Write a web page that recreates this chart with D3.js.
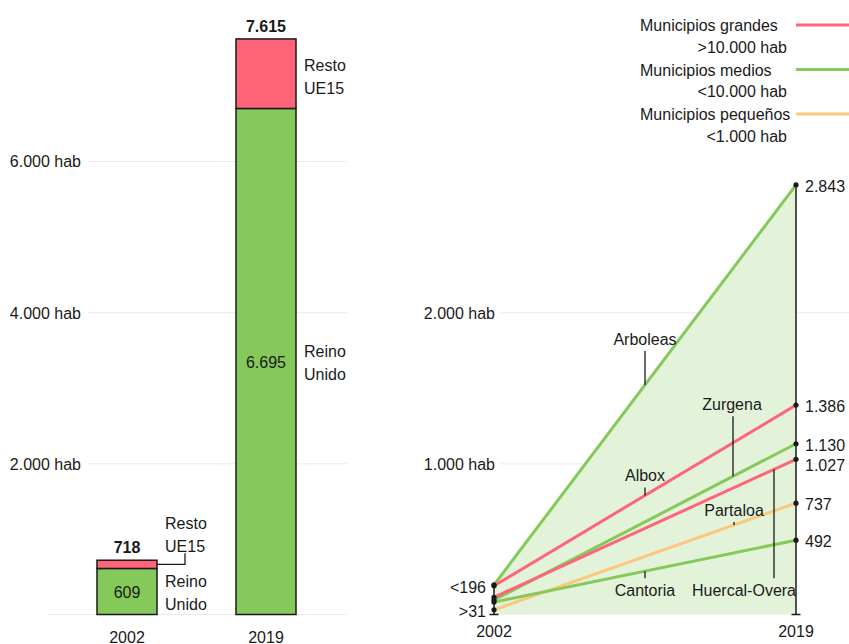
<!DOCTYPE html>
<html><head><meta charset="utf-8">
<script src="https://cdn.jsdelivr.net/npm/d3@7"></script>
<style>
body{margin:0;background:#fff}
svg{display:block}
text{font-family:"Liberation Sans",Arial,sans-serif;font-size:16px;fill:#1a1a1a}
</style>
</head><body><svg id="c" width="849" height="644"></svg>
<script>
// ---------- DATA ----------
const years = ["2002", "2019"];
const reinoUnido = [609, 6695];
const restoUE15 = [109, 920];
const leftTicks = [2000, 4000, 6000];

const municipios = ["Arboleas", "Albox", "Zurgena", "Huercal-Overa", "Partaloa", "Cantoria"];
const tipoMunicipio = ["medio", "grande", "medio", "grande", "pequeno", "medio"];
const valores2002 = [196, 190, 96, 114, 31, 82];
const valores2019 = [2843, 1386, 1130, 1027, 737, 492];
const rightTicks = [1000, 2000];

const legendTipos = ["grande", "medio", "pequeno"];
const legendLine1 = ["Municipios grandes", "Municipios medios", "Municipios pequeños"];
const legendLine2 = [">10.000 hab", "<10.000 hab", "<1.000 hab"];

// ---------- STYLE ----------
const RED = "#ff6479", GREEN = "#84c95a", ORANGE = "#fac97f";
const colorTipo = d3.scaleOrdinal().domain(["grande", "medio", "pequeno"]).range([RED, GREEN, ORANGE]);
const GRID = "#ebebeb";
const fmt = d3.formatLocale({decimal: ",", thousands: ".", grouping: [3], currency: ["", ""]}).format(",d");

const svg = d3.select("#c");

// ---------- LEFT: stacked bars ----------
const yL = d3.scaleLinear().domain([0, 6000]).range([614.5, 161]);
const xL = d3.scalePoint().domain(years).range([127, 266]);
const barW = 60;

const gL = svg.append("g");
// grid
const axL = d3.axisLeft(yL).tickValues(leftTicks).tickSize(-(347 - 88)).tickFormat(d => fmt(d) + " hab");
const gAx = gL.append("g").attr("transform", "translate(88,0)").call(axL);
gAx.select(".domain").remove();
gAx.selectAll("line").attr("stroke", GRID);
gAx.selectAll("text").attr("x", -7).attr("dy", "0.37em").style("font-size", "16px").style("font-family", '"Liberation Sans",Arial,sans-serif').attr("fill", "#1a1a1a");
gL.append("line").attr("x1", 48).attr("x2", 347).attr("y1", yL(0)).attr("y2", yL(0)).attr("stroke", GRID);

const table = years.map((y, i) => ({year: y, reino: reinoUnido[i], resto: restoUE15[i]}));
const stack = d3.stack().keys(["reino", "resto"])(table);
const segColor = {reino: GREEN, resto: RED};

stack.forEach(layer => {
  gL.selectAll(null).data(layer).enter().append("rect")
    .attr("x", d => xL(d.data.year) - barW / 2)
    .attr("width", barW)
    .attr("y", d => yL(d[1]))
    .attr("height", d => yL(d[0]) - yL(d[1]))
    .attr("fill", segColor[layer.key])
    .attr("stroke", "#1a1a1a").attr("stroke-width", 1.5);
});

// totals
table.forEach(d => {
  const tot = d.reino + d.resto;
  gL.append("text").attr("x", xL(d.year)).attr("y", yL(tot) - 7).attr("text-anchor", "middle")
    .attr("font-weight", "bold").text(fmt(tot));
});
// value inside green segment
table.forEach(d => {
  gL.append("text").attr("x", xL(d.year)).attr("y", (yL(0) + yL(d.reino)) / 2 + 6.5)
    .attr("text-anchor", "middle").text(fmt(d.reino));
});

function twoLine(g, x, cy, l1, l2) {
  g.append("text").attr("x", x).attr("y", cy - 11.5 + 5.8).text(l1);
  g.append("text").attr("x", x).attr("y", cy + 11.5 + 5.8).text(l2);
}
// 2019 labels
{
  const d = table[1];
  const xr = xL(d.year) + barW / 2 + 8;
  twoLine(gL, xr, (yL(d.reino) + yL(d.reino + d.resto)) / 2 + 2.5, "Resto", "UE15");
  twoLine(gL, xr, (yL(0) + yL(d.reino)) / 2 + 1, "Reino", "Unido");
}
// 2002 labels
{
  const d = table[0];
  const xr = xL(d.year) + barW / 2;
  const redC = (yL(d.reino) + yL(d.reino + d.resto)) / 2;
  twoLine(gL, xr + 8, redC - 30, "Resto", "UE15");
  gL.append("path").attr("d", `M${xr},${redC}H${xr + 28}V${redC - 11}`)
    .attr("fill", "none").attr("stroke", "#1a1a1a").attr("stroke-width", 1.3);
  twoLine(gL, xr + 8, (yL(0) + yL(d.reino)) / 2 + 1.5, "Reino", "Unido");
}
// year labels
years.forEach(y => {
  gL.append("text").attr("x", xL(y)).attr("y", 642.5).attr("text-anchor", "middle").text(y);
});

// ---------- RIGHT: slope chart ----------
const yR = d3.scaleLinear().domain([0, 2000]).range([614.5, 312.3]);
const xR = d3.scalePoint().domain(years).range([494, 796]);
const gR = svg.append("g");

const axR = d3.axisLeft(yR).tickValues(rightTicks).tickSize(-(849 - 500)).tickFormat(d => fmt(d) + " hab");
const gAxR = gR.append("g").attr("transform", "translate(500,0)").call(axR);
gAxR.select(".domain").remove();
gAxR.selectAll("line").attr("stroke", GRID);
gAxR.selectAll("text").attr("x", -5).attr("dy", "0.37em").style("font-size", "16px").style("font-family", '"Liberation Sans",Arial,sans-serif').attr("fill", "#1a1a1a");

const series = municipios.map((m, i) => ({
  name: m, tipo: tipoMunicipio[i],
  values: [{year: years[0], v: valores2002[i]}, {year: years[1], v: valores2019[i]}]
}));
const maxByYear = years.map((y, j) => ({year: y, v: d3.max(series, s => s.values[j].v)}));
const minByYear = years.map((y, j) => ({year: y, v: d3.min(series, s => s.values[j].v)}));

// envelope area
gR.append("path").datum(maxByYear)
  .attr("d", d3.area().x(d => xR(d.year)).y0(yR(0)).y1(d => yR(d.v)))
  .attr("fill", "#e3f3da");

// vertical axes at each year
maxByYear.forEach(d => {
  const x = xR(d.year);
  gR.append("line").attr("x1", x).attr("x2", x).attr("y1", yR(d.v)).attr("y2", yR(0))
    .attr("stroke", "#1a1a1a").attr("stroke-width", 1.5);
  gR.append("line").attr("x1", x - 4.5).attr("x2", x + 4.5).attr("y1", yR(0)).attr("y2", yR(0))
    .attr("stroke", "#1a1a1a").attr("stroke-width", 1.5);
});

const line = d3.line().x(d => xR(d.year)).y(d => yR(d.v));
gR.selectAll(".ml").data(series).enter().append("path")
  .attr("d", d => line(d.values)).attr("fill", "none")
  .attr("stroke", d => colorTipo(d.tipo)).attr("stroke-width", 3);

// dots
series.forEach(s => s.values.forEach(p => {
  gR.append("circle").attr("cx", xR(p.year)).attr("cy", yR(p.v)).attr("r", 2.6).attr("fill", "#1a1a1a");
}));

// end labels 2019 with simple collision avoidance
{
  const items = series.map(s => ({v: s.values[1].v, y: yR(s.values[1].v) + 1})).sort((a, b) => a.y - b.y);
  for (let i = 1; i < items.length; i++) if (items[i].y < items[i - 1].y + 20) items[i].y = items[i - 1].y + 20;
  items.forEach(it => gR.append("text").attr("x", xR(years[1]) + 9).attr("y", it.y + 5.8).text(fmt(it.v)));
}
// start labels 2002
gR.append("text").attr("x", xR(years[0]) - 8).attr("y", yR(maxByYear[0].v) + 2 + 5.8).attr("text-anchor", "end").text("<" + fmt(maxByYear[0].v));
gR.append("text").attr("x", xR(years[0]) - 8).attr("y", yR(minByYear[0].v) + 1 + 5.8).attr("text-anchor", "end").text(">" + fmt(minByYear[0].v));

// municipality labels with leaders
const labelLayout = {
  "Arboleas": {lx: 645, tx: 645, dy: -46},
  "Albox": {lx: 645, tx: 645, dy: -20},
  "Zurgena": {lx: 733, tx: 732, dy: -72},
  "Partaloa": {lx: 734, tx: 734, dy: -15},
  "Cantoria": {lx: 645, tx: 645, dy: 19},
  "Huercal-Overa": {lx: 774, tx: 744, dy: 121}
};
series.forEach(s => {
  const L = labelLayout[s.name];
  const x0 = xR(years[0]), x1 = xR(years[1]);
  const t = (L.lx - x0) / (x1 - x0);
  const ly = yR(s.values[0].v) + t * (yR(s.values[1].v) - yR(s.values[0].v));
  const cy = ly + L.dy;
  gR.append("text").attr("x", L.tx).attr("y", cy + 5.8).attr("text-anchor", "middle").text(s.name);
  const start = L.dy < 0 ? cy + 12 : cy - 12;
  gR.append("line").attr("x1", L.lx).attr("x2", L.lx).attr("y1", start).attr("y2", ly)
    .attr("stroke", "#1a1a1a").attr("stroke-width", 1.3);
});

// year labels
years.forEach(y => {
  gR.append("text").attr("x", xR(y)).attr("y", 636.5).attr("text-anchor", "middle").text(y);
});

// legend
legendTipos.forEach((tp, i) => {
  const by = 31 + i * 44.5;
  svg.append("text").attr("x", 640).attr("y", by).text(legendLine1[i]);
  svg.append("text").attr("x", 787).attr("y", by + 21.7).attr("text-anchor", "end").text(legendLine2[i]);
  svg.append("line").attr("x1", 796).attr("x2", 849).attr("y1", by - 6).attr("y2", by - 6)
    .attr("stroke", colorTipo(tp)).attr("stroke-width", 3);
});
</script>
</body></html>
